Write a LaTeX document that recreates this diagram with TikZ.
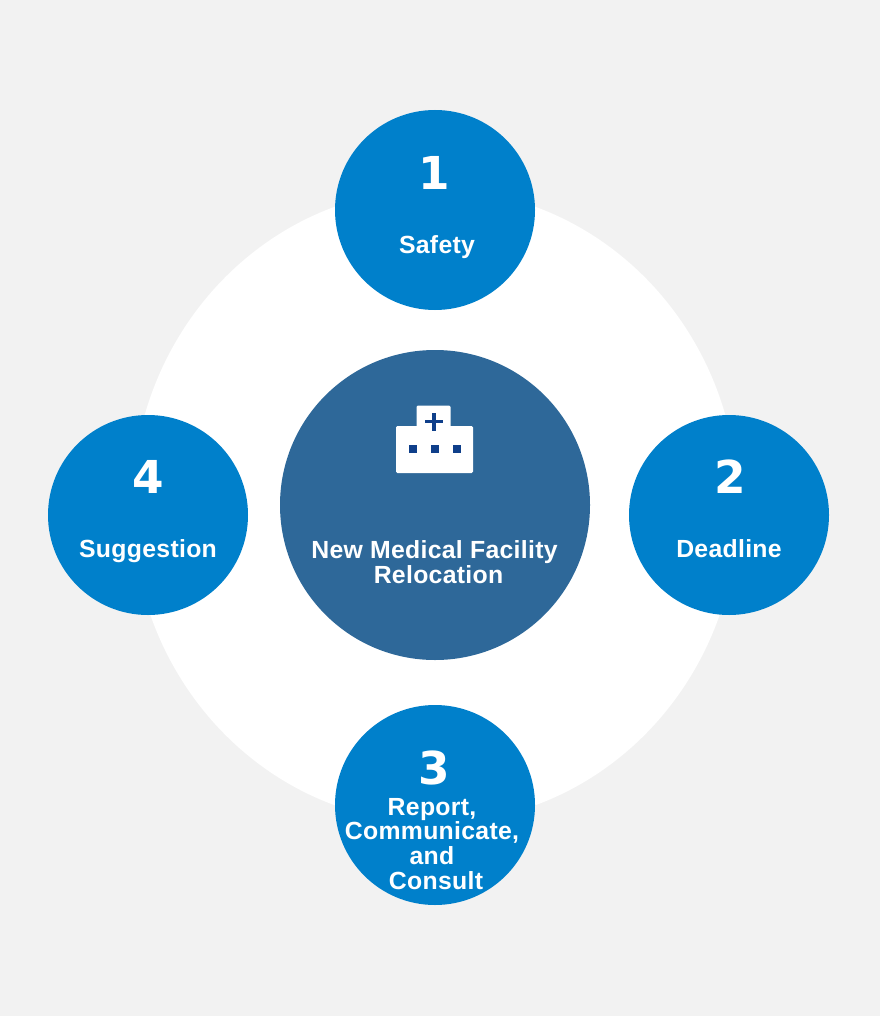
\documentclass[tikz,border=0pt]{standalone}
\usepackage{fontspec}
\setmainfont[LetterSpace=1.2]{Liberation Sans}
\newfontfamily\digitfont{DejaVu Sans}
\usetikzlibrary{arrows,shapes}
\definecolor{pagegrey}{HTML}{F2F2F2}
\definecolor{topicblue}{HTML}{0080CB}
\definecolor{hubblue}{HTML}{2E6899}
\definecolor{iconnavy}{HTML}{0F3F8A}
\tikzset{
  topic/.style = {circle, fill=topicblue, minimum size=150pt, inner sep=0pt},
  hub/.style = {circle, fill=hubblue, minimum size=232.5pt, inner sep=0pt},
  ring/.style = {ellipse, fill=white, minimum width=454.5pt, minimum height=475.5pt, inner sep=0pt},
  numeral/.style = {text=white, inner sep=0pt, font=\digitfont\bfseries\fontsize{34}{34}\selectfont},
  caption/.style = {align=center, text=white, inner sep=0pt, font=\bfseries\fontsize{18.6}{18.7}\selectfont},
  window/.style = {fill=iconnavy},
}

\begin{document}
\begin{tikzpicture}[x=0.75pt,y=-0.75pt]

    \path[fill=pagegrey,use as bounding box] (0,0) rectangle (880,1016);

    \node[ring] (ring) at (435,506) {};

    \node[topic] (safety) at (435,210) {};
    \node[topic] (deadline) at (729,515) {};
    \node[topic] (report) at (435,805) {};
    \node[topic] (suggestion) at (148,515) {};
    \node[hub] (facility) at (435,505) {};

    \node[numeral] (n1) at (434,173) {1};
    \node[numeral] (n2) at (730,477) {2};
    \node[numeral] (n3) at (434,768) {3};
    \node[numeral] (n4) at (148,477) {4};

    \node[caption,anchor=base] (t1) at (437,253) {Safety};
    \node[caption,anchor=base] (t2) at (729,557) {Deadline};
    \node[caption] (t3) at (432,844) {Report,\\Communicate,\\and\\\hspace{6pt}Consult};
    \node[caption,anchor=base] (t4) at (148,557) {Suggestion};
    \node[caption] (t0) at (434.5,562) {New Medical Facility\\\hspace{6pt}Relocation};

    % hospital icon
    \fill[white,rounded corners=1pt] (416.5,430) -- (416.5,405.5) -- (450.5,405.5) -- (450.5,430) -- cycle;
    \fill[white,rounded corners=1pt] (396,473) -- (396,426) -- (473,426) -- (473,473) -- cycle;
    \fill[window] (432,412.7) rectangle (435.5,430.7);
    \fill[window] (425,419.9) rectangle (442.5,423.4);
    \fill[window] (408.5,445) rectangle (416.5,453);
    \fill[window] (430.5,445) rectangle (438.5,453);
    \fill[window] (452.5,445) rectangle (460.5,453);

\end{tikzpicture}
\end{document}
